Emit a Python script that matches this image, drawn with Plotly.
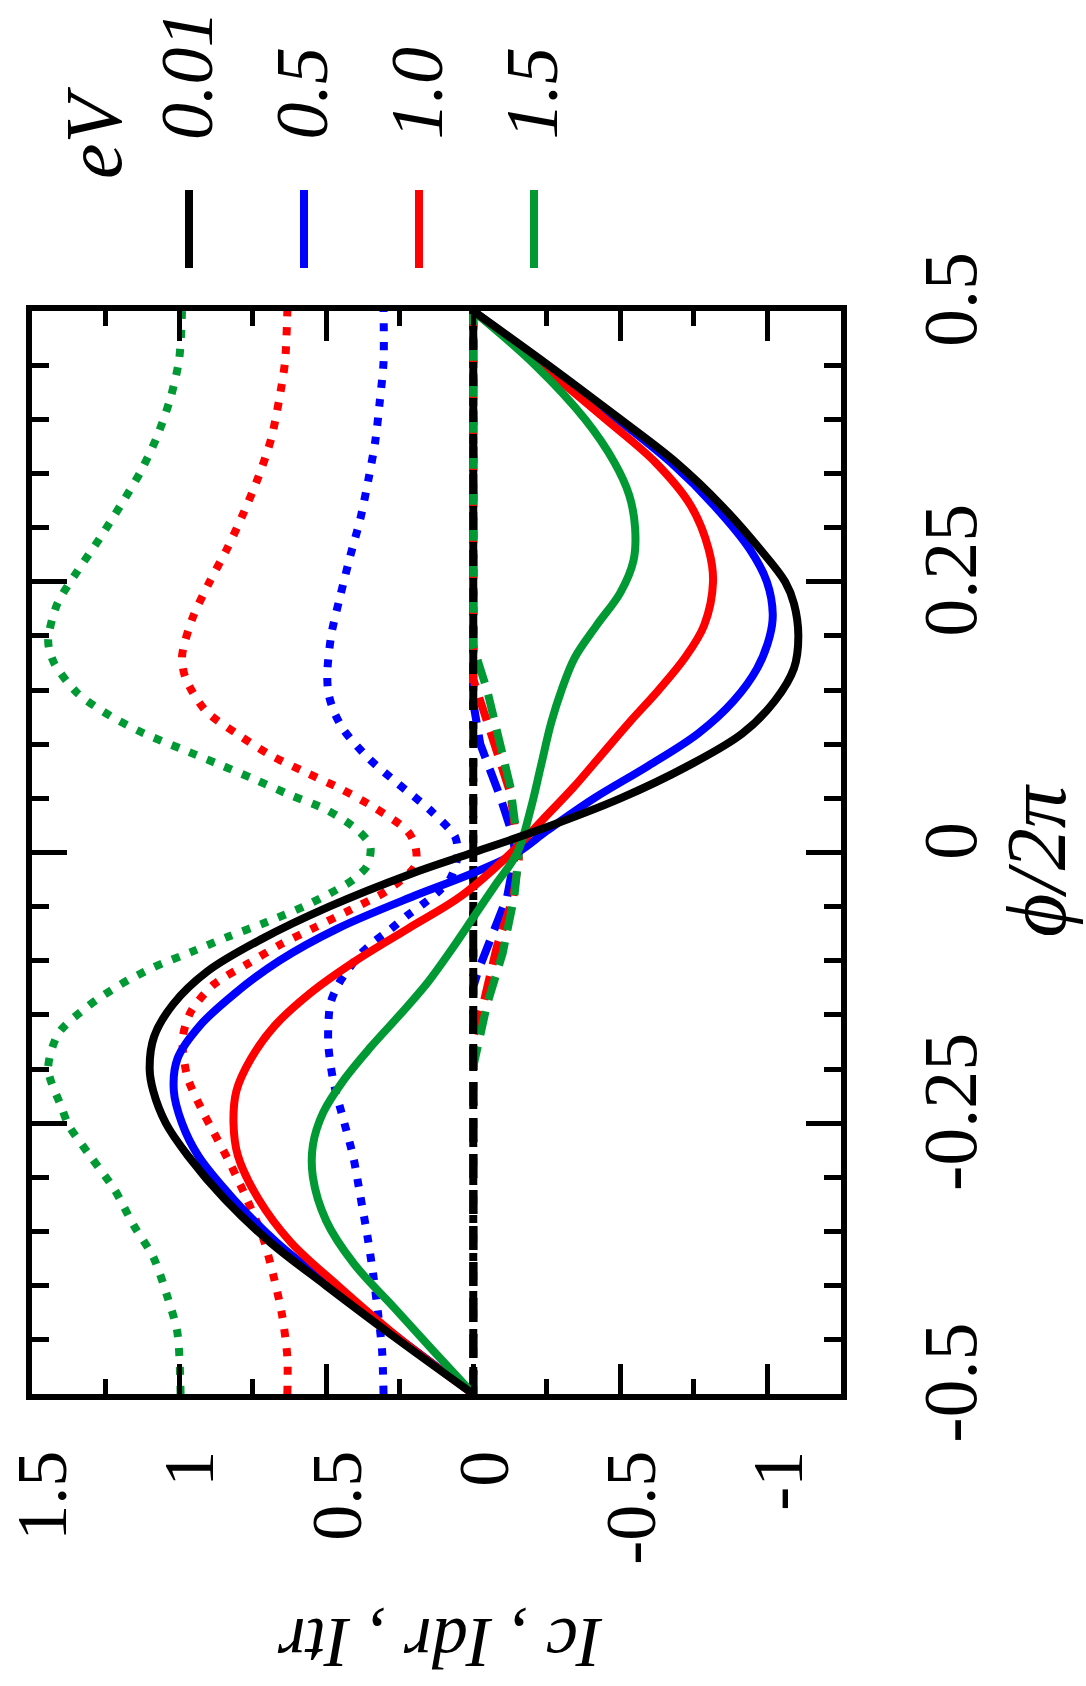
import plotly.graph_objects as go

# ---------------- data ----------------
EV_LABELS = ["0.01", "0.5", "1.0", "1.5"]
COLORS = ["#000000", "#0000ff", "#ff0000", "#009933"]

# Ic (solid)
IC_001_PHI = [-0.5, -0.45, -0.4, -0.36, -0.32, -0.28, -0.25, -0.22, -0.2, -0.17, -0.14, -0.11, -0.08,
              -0.05, -0.02, 0.0, 0.02, 0.05, 0.08, 0.11, 0.14, 0.17, 0.2, 0.23, 0.25, 0.28, 0.32, 0.36,
              0.4, 0.45, 0.5]
IC_001_VAL = [0.0, 0.255, 0.50, 0.69, 0.845, 0.97, 1.045, 1.088, 1.10, 1.085, 1.02, 0.905, 0.72,
              0.49, 0.215, 0.0, -0.215, -0.50, -0.73, -0.915, -1.025, -1.09, -1.105, -1.09, -1.06, -0.975, -0.845, -0.69,
              -0.50, -0.255, 0.0]

IC_05_PHI = [-0.5, -0.45, -0.4, -0.36, -0.32, -0.28, -0.25, -0.22, -0.19, -0.16, -0.13, -0.10, -0.07,
             -0.04, -0.02, 0.0, 0.02, 0.05, 0.08, 0.11, 0.14, 0.17, 0.2, 0.22, 0.25, 0.28, 0.32, 0.36,
             0.4, 0.45, 0.5]
IC_05_VAL = [0.0, 0.245, 0.485, 0.668, 0.815, 0.935, 0.99, 1.018, 1.005, 0.93, 0.81, 0.66, 0.46,
             0.20, 0.01, -0.15, -0.25, -0.41, -0.595, -0.765, -0.885, -0.965, -1.008, -1.018, -0.998, -0.94, -0.82, -0.672,
             -0.49, -0.245, 0.0]

IC_10_PHI = [-0.5, -0.45, -0.4, -0.36, -0.32, -0.28, -0.25, -0.22, -0.19, -0.16, -0.13, -0.10, -0.07,
             -0.04, 0.0, 0.03, 0.06, 0.09, 0.12, 0.15, 0.18, 0.21, 0.25, 0.28, 0.32, 0.36, 0.4, 0.45, 0.5]
IC_10_VAL = [0.0, 0.245, 0.46, 0.62, 0.73, 0.80, 0.815, 0.805, 0.755, 0.675, 0.555, 0.40, 0.22,
             0.04, -0.13, -0.235, -0.34, -0.435, -0.53, -0.63, -0.72, -0.785, -0.815, -0.80, -0.74, -0.62, -0.45, -0.23, 0.0]

IC_15_PHI = [-0.5, -0.46, -0.42, -0.38, -0.34, -0.3, -0.27, -0.24, -0.21, -0.18, -0.15, -0.12, -0.09,
             -0.06, -0.03, 0.0, 0.04, 0.08, 0.12, 0.15, 0.18, 0.21, 0.24, 0.27, 0.3, 0.33, 0.36, 0.4, 0.45, 0.5]
IC_15_VAL = [0.0, 0.136, 0.27, 0.405, 0.50, 0.545, 0.545, 0.51, 0.44, 0.35, 0.25, 0.155, 0.075,
             0.0, -0.075, -0.15, -0.195, -0.23, -0.265, -0.30, -0.345, -0.42, -0.50, -0.545, -0.55, -0.53, -0.48, -0.38, -0.21, 0.0]

# Idr (dashed)
IDR_001_PHI = [-0.5, 0.5]
IDR_001_VAL = [0.0, 0.0]
IDR_05_PHI = [-0.5, -0.124, -0.109, -0.081, -0.041, -0.002, 0.014, 0.051, 0.10, 0.138, 0.5]
IDR_05_VAL = [0.0, 0.0, -0.017, -0.058, -0.115, -0.142, -0.136, -0.092, -0.024, 0.0, 0.0]
IDR_10_PHI = [-0.5, -0.17, -0.14, -0.087, -0.041, -0.005, 0.055, 0.113, 0.16, 0.5]
IDR_10_VAL = [0.0, 0.0, -0.034, -0.08, -0.136, -0.155, -0.126, -0.058, 0.0, 0.0]
IDR_15_PHI = [-0.5, -0.198, -0.14, -0.093, -0.04, 0.0, 0.061, 0.122, 0.15, 0.19, 0.5]
IDR_15_VAL = [0.0, 0.0, -0.047, -0.10, -0.14, -0.155, -0.126, -0.07, -0.047, 0.0, 0.0]

# Itr (dotted)
ITR_001_PHI = [-0.5, 0.5]
ITR_001_VAL = [0.0, 0.0]
ITR_05_PHI = [-0.5, -0.46, -0.427, -0.39, -0.354, -0.317, -0.281, -0.248, -0.212, -0.176, -0.14, -0.122,
              -0.108, -0.094, -0.083, -0.071, -0.058, -0.048, -0.037, -0.024, -0.004, 0.014, 0.039,
              0.064, 0.087, 0.113, 0.131, 0.148, 0.167, 0.202, 0.237, 0.274, 0.308, 0.345, 0.38, 0.416, 0.453, 0.5]
ITR_05_VAL = [0.305, 0.31, 0.323, 0.34, 0.36, 0.384, 0.408, 0.44, 0.475, 0.493, 0.486, 0.459,
              0.425, 0.384, 0.34, 0.282, 0.224, 0.173, 0.122, 0.078, 0.054, 0.061, 0.146,
              0.258, 0.356, 0.44, 0.475, 0.493, 0.496, 0.482, 0.452, 0.418, 0.384, 0.356, 0.333, 0.318, 0.305, 0.305]
ITR_10_PHI = [-0.5, -0.466, -0.427, -0.39, -0.357, -0.321, -0.288, -0.258, -0.239, -0.207, -0.172, -0.147,
              -0.122, -0.103, -0.085, -0.069, -0.053, -0.035, -0.012, 0.006, 0.02, 0.041, 0.059, 0.074,
              0.09, 0.109, 0.131, 0.161, 0.181, 0.216, 0.248, 0.281, 0.314, 0.347, 0.382, 0.418, 0.453, 0.5]
ITR_10_VAL = [0.632, 0.632, 0.65, 0.68, 0.713, 0.768, 0.825, 0.883, 0.92, 0.972, 0.988, 0.96,
              0.883, 0.768, 0.656, 0.537, 0.418, 0.292, 0.197, 0.197, 0.224, 0.333, 0.452, 0.57,
              0.69, 0.80, 0.91, 0.978, 0.99, 0.955, 0.90, 0.836, 0.78, 0.73, 0.687, 0.66, 0.64, 0.632]
ITR_15_PHI = [-0.5, -0.443, -0.41, -0.374, -0.344, -0.311, -0.281, -0.252, -0.235, -0.2, -0.167, -0.142,
              -0.122, -0.106, -0.092, -0.078, -0.064, -0.05, -0.034, -0.025, -0.012, 0.006, 0.02, 0.039,
              0.053, 0.068, 0.082, 0.096, 0.11, 0.126, 0.147, 0.175, 0.195, 0.229, 0.26, 0.29, 0.32,
              0.352, 0.384, 0.419, 0.455, 0.5]
ITR_15_VAL = [0.995, 1.006, 1.04, 1.087, 1.155, 1.22, 1.30, 1.375, 1.40, 1.445, 1.41, 1.31,
              1.20, 1.087, 0.96, 0.836, 0.70, 0.577, 0.462, 0.408, 0.36, 0.35, 0.39, 0.496,
              0.622, 0.747, 0.87, 0.995, 1.12, 1.233, 1.345, 1.425, 1.445, 1.415, 1.345, 1.27, 1.20,
              1.13, 1.075, 1.03, 1.0, 0.99]

X_TICKS = [1.5, 1.0, 0.5, 0.0, -0.5, -1.0]
X_TICKTEXT = ["1.5", "1", "0.5", "0", "-0.5", "-1"]
X_MINOR = [1.25, 0.75, 0.25, -0.25, -0.75]
Y_TICKS = [-0.5, -0.25, 0.0, 0.25, 0.5]
Y_TICKTEXT = ["-0.5", "-0.25", "0", "0.25", "0.5"]
Y_MINOR = [v / 100 for v in range(-45, 50, 5) if v % 25 != 0]

# ---------------- figure ----------------
W, H = 1086, 1686
ML, MR, MT, MB = 32, 245, 311, 292
PW, PH = W - ML - MR, H - MT - MB

SERIF = "Liberation Serif, Times New Roman, serif"
LW = 8

ic = [(IC_001_PHI, IC_001_VAL), (IC_05_PHI, IC_05_VAL), (IC_10_PHI, IC_10_VAL), (IC_15_PHI, IC_15_VAL)]
idr = [(IDR_001_PHI, IDR_001_VAL), (IDR_05_PHI, IDR_05_VAL), (IDR_10_PHI, IDR_10_VAL), (IDR_15_PHI, IDR_15_VAL)]
itr = [(ITR_001_PHI, ITR_001_VAL), (ITR_05_PHI, ITR_05_VAL), (ITR_10_PHI, ITR_10_VAL), (ITR_15_PHI, ITR_15_VAL)]

fig = go.Figure()

order = [1, 2, 3, 0]
for i in order:
    p, v = itr[i]
    fig.add_trace(go.Scatter(x=v, y=p, mode="lines",
                             line=dict(color=COLORS[i], width=LW, dash="8px,11px", shape="spline", smoothing=0.8),
                             showlegend=False, hoverinfo="skip"))
for i in order:
    p, v = idr[i]
    fig.add_trace(go.Scatter(x=v, y=p, mode="lines",
                             line=dict(color=COLORS[i], width=LW, dash="24px,12px"),
                             showlegend=False, hoverinfo="skip"))
for i in [1, 2, 3, 0]:
    p, v = ic[i]
    fig.add_trace(go.Scatter(x=v, y=p, mode="lines",
                             line=dict(color=COLORS[i], width=LW, shape="spline", smoothing=1.0),
                             showlegend=False, hoverinfo="skip"))

def px_x(X):
    return (X - ML) / PW

def px_y(Y):
    return (H - MB - Y) / PH

# legend: vertical colour samples + rotated labels
LEG_X = [189, 304, 419, 534]
for i, lab in enumerate(EV_LABELS):
    fig.add_shape(type="line", xref="paper", yref="paper",
                  x0=px_x(LEG_X[i]), x1=px_x(LEG_X[i]), y0=px_y(190), y1=px_y(268),
                  line=dict(color=COLORS[i], width=8))
    fig.add_annotation(xref="paper", yref="paper", x=px_x(LEG_X[i] - 2), y=px_y(142),
                       text=lab, textangle=-90, showarrow=False, xanchor="center", yanchor="bottom",
                       font=dict(family=SERIF, size=74, color="black", style="italic"))
fig.add_annotation(xref="paper", yref="paper", x=px_x(94), y=px_y(133),
                   text="eV", textangle=-90, showarrow=False, xanchor="center", yanchor="middle",
                   font=dict(family=SERIF, size=80, color="black", style="italic"))

# axis titles
fig.add_annotation(xref="paper", yref="paper", x=px_x(1036), y=px_y(860),
                   text="ϕ/2π", textangle=-90, showarrow=False, xanchor="center", yanchor="middle",
                   font=dict(family=SERIF, size=84, color="black", style="italic"))
fig.add_annotation(xref="paper", yref="paper", x=px_x(440), y=px_y(1643),
                   text="Ic , Idr , Itr", textangle=180, showarrow=False, xanchor="center", yanchor="middle",
                   font=dict(family=SERIF, size=72, color="black", style="italic"))

fig.update_xaxes(range=[1.5, -1.25], showline=True, linewidth=6, linecolor="black", mirror="allticks",
                 ticks="inside", ticklen=30, tickwidth=5, tickcolor="black",
                 tickmode="array", tickvals=X_TICKS, ticktext=X_TICKTEXT, tickangle=-90,
                 tickfont=dict(family=SERIF, size=72, color="black"), ticklabelstandoff=22,
                 ticklabeloverflow="allow", ticklabelshift=-11,
                 minor=dict(ticks="inside", ticklen=15, tickwidth=5, tickcolor="black", tickvals=X_MINOR),
                 showgrid=False, zeroline=False)
fig.update_yaxes(range=[-0.5, 0.5], side="right", showline=True, linewidth=6, linecolor="black",
                 mirror="allticks", ticks="inside", ticklen=35, tickwidth=5, tickcolor="black",
                 tickmode="array", tickvals=Y_TICKS, ticktext=Y_TICKTEXT, tickangle=-90,
                 tickfont=dict(family=SERIF, size=76, color="black"), ticklabelstandoff=38,
                 ticklabeloverflow="allow",
                 minor=dict(ticks="inside", ticklen=17, tickwidth=5, tickcolor="black", tickvals=Y_MINOR),
                 showgrid=False, zeroline=False)

fig.update_layout(width=W, height=H, margin=dict(l=ML, r=MR, t=MT, b=MB, autoexpand=False),
                  paper_bgcolor="white", plot_bgcolor="white", showlegend=False)

fig.write_html("out.html", config={"displayModeBar": False})
